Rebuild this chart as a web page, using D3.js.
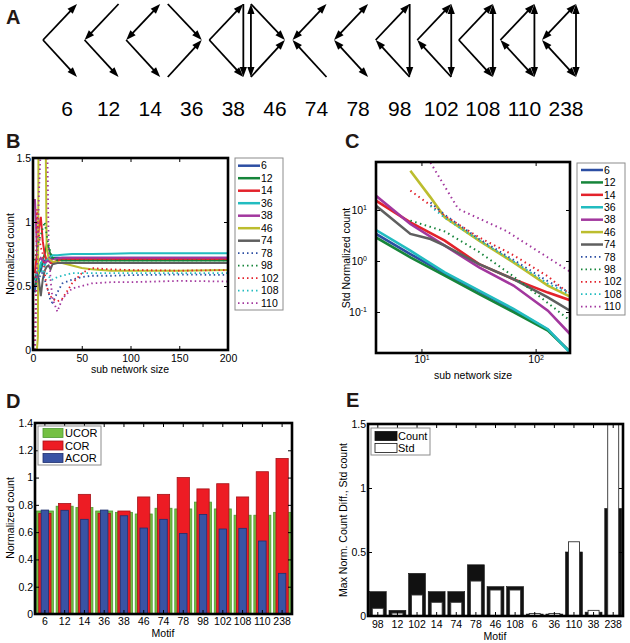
<!DOCTYPE html>
<html><head><meta charset="utf-8">
<script src="https://cdn.jsdelivr.net/npm/d3@7"></script>
<style>body{margin:0;background:#fff;} svg{display:block;}</style>
</head><body><svg id="c" width="630" height="643"></svg>
<script>
// ================= DATA =================
// Panel A: motifs
const motifIds = ["6","12","14","36","38","46","74","78","98","102","108","110","238"];
const motifVertexSide = ["L","L","L","R","L","R","L","L","L","L","L","L","L"];
const motifEdges = [
  ["V>T","V>B"],
  ["T>V","V>B"],
  ["V<>T","V>B"],
  ["T>V","B>V"],
  ["V>T","V>B","T>B"],
  ["T<>B","T>V","B>V"],
  ["V<>T","B>V"],
  ["V<>T","V<>B"],
  ["V>T","T>B","B>V"],
  ["V>T","T<>B","B>V"],
  ["V>T","V>B","T<>B"],
  ["V>T","V<>B","T<>B"],
  ["V<>T","V<>B","T<>B"]
];
// Panels B, C: series
const seriesNames = ["6","12","14","36","38","46","74","78","98","102","108","110"];
const bSizes = [2,3,4,5,6,8,10,12,14,16,18,20,25,30,40,50,60,80,100,150,200];
const bValues = [
  [0.45,0.55,0.6,0.62,0.65,0.62,0.68,0.7,0.7,0.71,0.71,0.72,0.72,0.72,0.72,0.72,0.72,0.72,0.72,0.72,0.72],
  [0.5,0.52,0.55,0.58,0.6,0.65,0.7,0.75,0.82,0.8,0.74,0.72,0.71,0.7,0.7,0.7,0.7,0.7,0.7,0.7,0.7],
  [0.6,0.68,0.75,0.85,0.95,1.04,0.85,0.75,0.7,0.7,0.68,0.68,0.7,0.71,0.71,0.71,0.71,0.71,0.71,0.71,0.71],
  [0.55,0.58,0.6,0.6,0.62,0.68,0.7,0.66,0.7,0.72,0.73,0.74,0.74,0.745,0.75,0.75,0.75,0.752,0.755,0.755,0.755],
  [1.18,1.0,0.8,0.72,0.7,0.72,0.7,0.68,0.69,0.7,0.7,0.71,0.715,0.72,0.72,0.72,0.72,0.72,0.72,0.72,0.72],
  [0,0,0,0.1,2.5,2.5,2.5,2.5,0.8,0.72,0.7,0.69,0.69,0.68,0.66,0.64,0.63,0.62,0.62,0.62,0.625],
  [0.55,0.58,0.6,0.58,0.55,0.42,0.55,0.62,0.65,0.66,0.63,0.67,0.68,0.68,0.68,0.68,0.68,0.68,0.68,0.68,0.68],
  [0.5,0.55,0.6,0.58,0.55,0.6,0.6,0.55,0.5,0.45,0.38,0.37,0.45,0.52,0.55,0.57,0.58,0.58,0.585,0.59,0.586],
  [0.7,0.75,0.8,0.82,0.85,0.9,0.95,1.0,0.9,0.82,0.76,0.72,0.7,0.7,0.7,0.7,0.7,0.7,0.7,0.7,0.7],
  [0,0.5,1.1,0.95,0.9,0.8,0.75,0.6,0.5,0.45,0.42,0.4,0.38,0.4,0.52,0.6,0.64,0.63,0.625,0.62,0.625],
  [0.55,0.58,0.6,0.61,0.62,0.65,0.6,0.62,0.6,0.58,0.55,0.55,0.57,0.58,0.6,0.6,0.6,0.6,0.6,0.6,0.6],
  [0,0.3,0.6,0.9,1.2,1.6,2.5,2.5,2.0,0.85,0.55,0.4,0.3,0.4,0.48,0.5,0.52,0.53,0.53,0.54,0.535]
];
const cPoints = [
  [[4,3.4],[8,1.37],[16,0.57],[32,0.25],[64,0.11],[128,0.045],[200,0.0165]],
  [[4,2.9],[8,1.18],[16,0.515],[32,0.225],[64,0.099],[128,0.043],[200,0.0165]],
  [[4,15.2],[8,5.7],[16,2.5],[32,0.87],[64,0.44],[128,0.24],[200,0.17]],
  [[4,4.05],[8,1.59],[16,0.6],[32,0.262],[64,0.115],[128,0.046],[200,0.016]],
  [[4,19],[8,5.3],[16,2.0],[32,0.75],[64,0.33],[128,0.106],[200,0.037]],
  [[8,59],[12,17.7],[16,7.2],[32,2.5],[64,0.94],[128,0.33],[200,0.2]],
  [[4,12.1],[8,3.4],[12,2.7],[16,2.0],[32,0.87],[64,0.44],[128,0.194],[200,0.106]],
  [[12,14],[16,8],[32,2.7],[64,1.05],[128,0.4],[200,0.24]],
  [[8,6.2],[16,3.8],[32,1.5],[64,0.5],[128,0.15],[200,0.068]],
  [[8,24],[16,7.7],[32,2.9],[64,1.3],[128,0.5],[200,0.22]],
  [[12,12],[16,7],[32,2.55],[64,0.98],[128,0.36],[200,0.22]],
  [[12,85],[21,10.5],[55,3.9],[128,1.17],[200,0.62]]
];
// Panel D
const dGroups = ["UCOR","COR","ACOR"];
const dUCOR = [0.755,0.79,0.78,0.755,0.745,0.733,0.775,0.77,0.82,0.77,0.724,0.724,0.745];
const dCOR  = [0.738,0.81,0.877,0.738,0.755,0.858,0.877,1.0,0.917,0.955,0.858,1.043,1.14];
const dACOR = [0.762,0.76,0.694,0.762,0.72,0.63,0.694,0.59,0.73,0.623,0.628,0.535,0.298];
// Panel E
const eMotifs = ["98","12","102","14","74","78","46","108","6","36","110","38","238"];
const eGroups = ["Count","Std"];
const eCount = [0.19,0.044,0.333,0.19,0.19,0.40,0.229,0.229,0.015,0.015,0.50,0.03,0.84];
const eStd   = [0.06,0.023,0.164,0.107,0.107,0.273,0.203,0.203,0.02,0.02,0.58,0.044,1.9];
// Tick values
const bXTicks=[0,50,100,150,200], bYTicks=[0,0.5,1,1.5];
const cXTicks=[10,100], cYTicks=[0.1,1,10];
const dYTicks=[0,0.2,0.4,0.6,0.8,1,1.2,1.4];
const eYTicks=[0,0.5,1,1.5];

// ================= STYLE =================
const FONT='"Liberation Sans", Arial, Helvetica, sans-serif';
const seriesColors=["#2c4ea3","#16853a","#e3222b","#22bcc0","#a2379e","#bcbd2e","#5f5f5f","#2c4ea3","#16853a","#e3222b","#22bcc0","#a2379e"];
const isDotted = seriesNames.map((d,i)=>i>=7);
const dFill=["#74c043","#ed1c24","#3953a4"], dStroke=["#4e9a33","#a51319","#1f2f6e"], dFrac=[0.86,0.62,0.38];

const svg=d3.select("#c").attr("font-family",FONT);

// ================= helpers =================
function drawAxes(xs, ys, o){
  const [x0,x1]=xs.range(), [y0,y1]=ys.range();
  const g=svg.append("g");
  const bx=d3.axisBottom(xs).tickSize(-4).tickPadding(o.xpad).tickFormat(o.xf);
  const tx=d3.axisTop(xs).tickSize(-4).tickFormat("");
  const ly=d3.axisLeft(ys).tickSize(-4).tickPadding(o.ypad).tickFormat(o.yf);
  const ry=d3.axisRight(ys).tickSize(-4).tickFormat("");
  if(o.xt){bx.tickValues(o.xt);tx.tickValues(o.xt);}
  if(o.yt){ly.tickValues(o.yt);ry.tickValues(o.yt);}
  const gb=g.append("g").attr("transform",`translate(0,${y0})`).call(bx);
  g.append("g").attr("transform",`translate(0,${y1})`).call(tx);
  const gl=g.append("g").attr("transform",`translate(${x0},0)`).call(ly);
  g.append("g").attr("transform",`translate(${x1},0)`).call(ry);
  g.selectAll(".domain").remove();
  g.selectAll("g").attr("font-family",FONT);
  g.selectAll("text").attr("font-size",10.5).attr("fill","#000");
  g.selectAll(".tick line").attr("stroke","#000").attr("stroke-width",1);
  g.append("rect").attr("x",x0).attr("y",y1).attr("width",x1-x0).attr("height",y0-y1)
    .attr("fill","none").attr("stroke","#000").attr("stroke-width",2.6);
  return {gb,gl};
}
function ylabel(x,y,t){svg.append("text").attr("transform",`translate(${x},${y}) rotate(-90)`).attr("text-anchor","middle").attr("font-size",10.5).text(t);}
function xlabel(x,y,t){svg.append("text").attr("x",x).attr("y",y).attr("text-anchor","middle").attr("font-size",10.5).text(t);}
function clip(id,x0,y0,x1,y1){svg.append("clipPath").attr("id",id).append("rect").attr("x",x0).attr("y",y0).attr("width",x1-x0).attr("height",y1-y0);}

// ================= Panel letters =================
[["A",6,24],["B",6,148],["C",345,148],["D",6,408],["E",346,407]].forEach(p=>{
  svg.append("text").attr("x",p[1]).attr("y",p[2]).attr("font-size",20).attr("font-weight","bold").attr("fill","#231815").text(p[0]);
});

// ================= Panel A =================
const gA=svg.append("g");
const motifX=d3.scalePoint().domain(motifIds).range([43,542]);
const labelX=d3.scalePoint().domain(motifIds).range([67,566]);
const MW=34, yT=4, yV=40, yB=77;
function drawArrow(g,p,q,both){
  const L=10, HW=3.6;
  const dx=q[0]-p[0], dy=q[1]-p[1], d=Math.hypot(dx,dy), ux=dx/d, uy=dy/d;
  const s=both?L*0.8:0, e=L*0.8;
  g.append("line").attr("x1",p[0]+ux*s).attr("y1",p[1]+uy*s).attr("x2",q[0]-ux*e).attr("y2",q[1]-uy*e)
    .attr("stroke","#000").attr("stroke-width",1.8);
  function head(t,vx,vy){const bx=t[0]-vx*L, by=t[1]-vy*L;
    g.append("path").attr("d",`M${t[0]},${t[1]}L${bx-vy*HW},${by+vx*HW}L${bx+vy*HW},${by-vx*HW}Z`).attr("fill","#000");}
  head(q,ux,uy); if(both) head(p,-ux,-uy);
}
motifIds.forEach((id,i)=>{
  const x0=motifX(id), x1=x0+MW;
  const P = motifVertexSide[i]==="L" ? {V:[x0,yV],T:[x1,yT],B:[x1,yB]} : {V:[x1,yV],T:[x0,yT],B:[x0,yB]};
  motifEdges[i].forEach(e=>{
    const both=e.includes("<>");
    const [a,b]=both?e.split("<>"):e.split(">");
    drawArrow(gA,P[a],P[b],both);
  });
  gA.append("text").attr("x",labelX(id)).attr("y",116).attr("text-anchor","middle").attr("font-size",21).text(id);
});

// ================= Panel B =================
const bx=d3.scaleLinear().domain([0,200]).range([33,228]);
const by=d3.scaleLinear().domain([0,1.5]).range([350,158]);
clip("clipB",33,158,228,350);
const bLine=d3.line().x(d=>bx(d[0])).y(d=>by(d[1]));
const gBL=svg.append("g").attr("clip-path","url(#clipB)");
seriesNames.forEach((n,i)=>{
  gBL.append("path").attr("d",bLine(bSizes.map((s,k)=>[s,bValues[i][k]])))
    .attr("fill","none").attr("stroke",seriesColors[i]).attr("stroke-width",isDotted[i]?1.8:2)
    .attr("stroke-dasharray",isDotted[i]?"1.5,3":null);
});
drawAxes(bx,by,{xt:bXTicks,yt:bYTicks,xf:d=>String(d),yf:d=>String(d),xpad:5,ypad:2});
xlabel(130,373,"sub network size");
ylabel(14,254,"Normalized count");
function legendLines(x0,y0,x1,y1,lx0,lx1,firstY,step){
  svg.append("rect").attr("x",x0).attr("y",y0).attr("width",x1-x0).attr("height",y1-y0).attr("fill","#fff").attr("stroke","#8c8c8c").attr("stroke-width",1);
  seriesNames.forEach((n,i)=>{
    const y=firstY+i*step;
    svg.append("line").attr("x1",lx0).attr("x2",lx1).attr("y1",y).attr("y2",y).attr("stroke",seriesColors[i])
      .attr("stroke-width",isDotted[i]?1.8:2.5).attr("stroke-dasharray",isDotted[i]?"1.5,3":null);
    svg.append("text").attr("x",lx1+1).attr("y",y+3.7).attr("font-size",10.5).text(n);
  });
}
legendLines(235,158,283,310,238,260,165.7,12.5);

// ================= Panel C =================
const cx=d3.scaleLog().domain([4,200]).range([376,570]);
const cy=d3.scaleLog().domain([0.0157,87.3]).range([353,162]);
clip("clipC",376,162,570,353);
const cLine=d3.line().x(d=>cx(d[0])).y(d=>cy(d[1]));
const gCL=svg.append("g").attr("clip-path","url(#clipC)");
seriesNames.forEach((n,i)=>{
  gCL.append("path").attr("d",cLine(cPoints[i]))
    .attr("fill","none").attr("stroke",seriesColors[i]).attr("stroke-width",isDotted[i]?2:2.6)
    .attr("stroke-dasharray",isDotted[i]?"1.5,3.5":null);
});
const axC=drawAxes(cx,cy,{xt:cXTicks,yt:cYTicks,xf:()=>"10",yf:()=>"10",xpad:3,ypad:9});
[axC.gb,axC.gl].forEach(g=>{
  g.selectAll(".tick text").each(function(d){
    d3.select(this).append("tspan").attr("dy","-0.5em").attr("font-size",7).text(String(Math.round(Math.log10(d))));
  });
});
xlabel(473,379,"sub network size");
ylabel(350,258,"Std Normalized count");
legendLines(577,163,625,315,581,603,170,12.42);

// ================= Panel D =================
const dx=d3.scaleBand().domain(motifIds).range([35,292]);
const dy=d3.scaleLinear().domain([0,1.4]).range([614,423]);
[dUCOR,dCOR,dACOR].forEach((arr,j)=>{
  svg.append("g").selectAll("rect").data(arr).join("rect")
    .attr("x",(d,i)=>dx(motifIds[i])+dx.bandwidth()*(1-dFrac[j])/2)
    .attr("width",dx.bandwidth()*dFrac[j])
    .attr("y",d=>dy(d)).attr("height",d=>dy(0)-dy(d))
    .attr("fill",dFill[j]).attr("stroke",dStroke[j]).attr("stroke-width",0.8);
});
drawAxes(dx,dy,{yt:dYTicks,xf:d=>d,yf:d=>String(d),xpad:4,ypad:2});
xlabel(163,637,"Motif");
ylabel(14,518,"Normalized count");
svg.append("rect").attr("x",38).attr("y",426).attr("width",63).attr("height",39).attr("fill","#fff").attr("stroke","#8c8c8c");
dGroups.forEach((n,j)=>{
  const y=433+j*12.5;
  svg.append("rect").attr("x",43).attr("y",y-4.5).attr("width",20).attr("height",9).attr("fill",dFill[j]).attr("stroke",dStroke[j]).attr("stroke-width",0.8);
  svg.append("text").attr("x",65).attr("y",y+4).attr("font-size",11).text(n);
});

// ================= Panel E =================
const ex=d3.scaleBand().domain(eMotifs).range([368,623]);
const ey=d3.scaleLinear().domain([0,1.5]).range([616,424]);
clip("clipE",368,424,623,616);
const gE=svg.append("g").attr("clip-path","url(#clipE)");
gE.append("g").selectAll("rect").data(eCount).join("rect")
  .attr("x",(d,i)=>ex(eMotifs[i])+ex.bandwidth()*0.07).attr("width",ex.bandwidth()*0.86)
  .attr("y",d=>ey(d)).attr("height",d=>ey(0)-ey(d)).attr("fill","#111").attr("stroke","#111").attr("stroke-width",0.6);
gE.append("g").selectAll("rect").data(eStd).join("rect")
  .attr("x",(d,i)=>ex(eMotifs[i])+ex.bandwidth()*0.22).attr("width",ex.bandwidth()*0.56)
  .attr("y",d=>ey(d)).attr("height",d=>ey(0)-ey(d)).attr("fill","#fff").attr("stroke","#333").attr("stroke-width",0.9);
drawAxes(ex,ey,{yt:eYTicks,xf:d=>d,yf:d=>String(d),xpad:5,ypad:2});
xlabel(495,640,"Motif");
ylabel(347,520,"Max Norm. Count Diff., Std count");
svg.append("rect").attr("x",371).attr("y",428).attr("width",59).attr("height",27).attr("fill","#fff").attr("stroke","#8c8c8c");
eGroups.forEach((n,j)=>{
  const y=436+j*12;
  svg.append("rect").attr("x",375).attr("y",y-4.5).attr("width",22).attr("height",9).attr("fill",j===0?"#111":"#fff").attr("stroke","#111").attr("stroke-width",0.8);
  svg.append("text").attr("x",398).attr("y",y+4).attr("font-size",11).text(n);
});
</script>
</body></html>
